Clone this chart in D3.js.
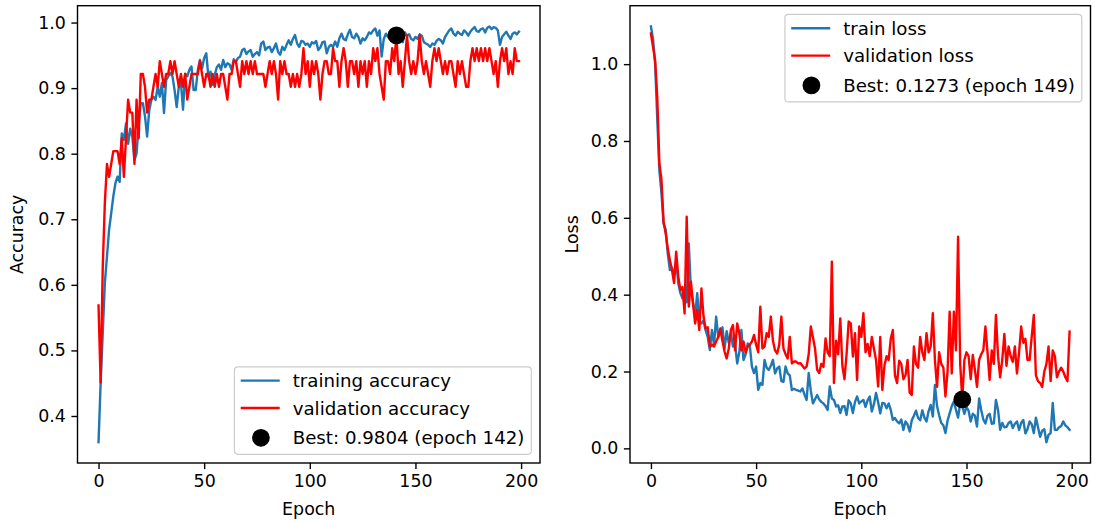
<!DOCTYPE html>
<html><head><meta charset="utf-8">
<script src="https://cdn.jsdelivr.net/npm/d3@7"></script>
<style>body{margin:0;background:#fff}svg{display:block}text{font-family:"DejaVu Sans",sans-serif;}</style>
</head><body>
<svg id="c" width="1095" height="521"></svg>
<script>
const epochs = d3.range(200);
const trainAcc = [
0.360,0.450,0.527,0.603,0.643,0.684,0.709,0.735,0.755,0.765,
0.757,0.831,0.821,0.846,0.815,0.838,0.826,0.790,0.800,0.845,
0.877,0.877,0.857,0.826,0.866,0.882,0.887,0.882,0.902,0.887,
0.908,0.862,0.912,0.918,0.923,0.918,0.897,0.871,0.902,0.908,
0.867,0.922,0.918,0.928,0.933,0.897,0.897,0.928,0.943,0.930,
0.946,0.953,0.917,0.925,0.905,0.920,0.932,0.936,0.928,0.943,
0.932,0.938,0.936,0.928,0.944,0.940,0.946,0.948,0.958,0.960,
0.952,0.956,0.958,0.948,0.952,0.955,0.950,0.968,0.971,0.958,
0.962,0.963,0.955,0.961,0.968,0.955,0.951,0.963,0.958,0.966,
0.973,0.966,0.975,0.981,0.968,0.963,0.972,0.971,0.966,0.968,
0.963,0.970,0.968,0.972,0.958,0.962,0.970,0.971,0.953,0.963,
0.966,0.963,0.971,0.963,0.976,0.983,0.975,0.973,0.982,0.989,
0.978,0.976,0.983,0.978,0.968,0.976,0.973,0.978,0.985,0.983,
0.988,0.991,0.980,0.988,0.948,0.975,0.983,0.978,0.985,0.988,
0.981,0.980,0.985,0.976,0.970,0.985,0.980,0.982,0.975,0.973,
0.978,0.975,0.982,0.980,0.970,0.968,0.966,0.963,0.968,0.966,
0.972,0.975,0.973,0.968,0.978,0.983,0.988,0.991,0.983,0.980,
0.986,0.983,0.981,0.988,0.985,0.980,0.986,0.990,0.993,0.987,
0.986,0.990,0.991,0.985,0.992,0.994,0.990,0.993,0.992,0.988,
0.966,0.978,0.982,0.986,0.980,0.975,0.983,0.985,0.982,0.986];
const valAcc = [
0.5686,0.4510,0.6275,0.7255,0.7843,0.7647,0.7843,0.8039,0.8039,0.8039,
0.7843,0.8235,0.7647,0.8235,0.8824,0.8627,0.8627,0.7843,0.8824,0.8235,
0.9216,0.9216,0.9020,0.8627,0.8824,0.8824,0.9020,0.9216,0.9020,0.9412,
0.9216,0.9020,0.9216,0.9216,0.9412,0.9216,0.9412,0.9216,0.9020,0.9216,
0.9020,0.9216,0.8824,0.9020,0.9216,0.9216,0.9216,0.9216,0.9412,0.9216,
0.9020,0.9216,0.9216,0.9020,0.9216,0.9020,0.9216,0.9020,0.9216,0.9216,
0.9020,0.8824,0.9216,0.9216,0.9412,0.9412,0.9216,0.9020,0.9412,0.9216,
0.9412,0.9216,0.9412,0.9216,0.9412,0.9216,0.9216,0.9216,0.9216,0.9020,
0.9216,0.9412,0.9216,0.9412,0.9216,0.8824,0.9412,0.9216,0.9412,0.9216,
0.9216,0.9020,0.9216,0.9020,0.9216,0.9020,0.9216,0.9608,0.9216,0.9412,
0.9020,0.9412,0.9216,0.9412,0.9216,0.8824,0.9216,0.9412,0.9412,0.9216,
0.9216,0.9608,0.9412,0.9412,0.9020,0.9412,0.9608,0.9412,0.9020,0.9412,
0.9412,0.9216,0.9412,0.9020,0.9412,0.9216,0.9412,0.9020,0.9412,0.9216,
0.9608,0.9412,0.9608,0.9216,0.9020,0.8824,0.9412,0.9412,0.9216,0.9608,
0.9412,0.9804,0.9216,0.9412,0.9020,0.9412,0.9804,0.9412,0.9216,0.9412,
0.9216,0.9412,0.9804,0.9412,0.9216,0.9412,0.9216,0.9020,0.9412,0.9608,
0.9412,0.9608,0.9412,0.9216,0.9412,0.9216,0.9412,0.9412,0.9216,0.9020,
0.9412,0.9216,0.9412,0.9216,0.9020,0.9020,0.9412,0.9608,0.9412,0.9608,
0.9412,0.9608,0.9412,0.9608,0.9412,0.9608,0.9412,0.9216,0.9412,0.9020,
0.9412,0.9608,0.9412,0.9608,0.9216,0.9412,0.9216,0.9608,0.9412,0.9412];
const trainLoss = [
1.098,1.065,1.000,0.860,0.724,0.665,0.585,0.570,0.507,0.464,
0.470,0.447,0.490,0.430,0.404,0.390,0.395,0.380,0.533,0.412,
0.380,0.343,0.404,0.330,0.325,0.333,0.307,0.290,0.256,0.308,
0.270,0.343,0.290,0.300,0.315,0.260,0.305,0.275,0.300,0.265,
0.272,0.221,0.250,0.308,0.230,0.245,0.273,0.268,0.213,0.196,
0.213,0.152,0.170,0.165,0.230,0.210,0.204,0.215,0.230,0.195,
0.208,0.213,0.175,0.173,0.213,0.195,0.190,0.152,0.155,0.152,
0.150,0.148,0.156,0.140,0.126,0.196,0.150,0.117,0.128,0.139,
0.127,0.121,0.117,0.110,0.100,0.161,0.130,0.126,0.109,0.112,
0.092,0.109,0.110,0.087,0.125,0.117,0.092,0.121,0.135,0.117,
0.122,0.126,0.108,0.125,0.135,0.096,0.115,0.144,0.120,0.091,
0.118,0.117,0.104,0.117,0.100,0.074,0.079,0.070,0.065,0.075,
0.048,0.070,0.062,0.044,0.073,0.085,0.098,0.079,0.073,0.099,
0.080,0.070,0.097,0.113,0.083,0.165,0.110,0.086,0.066,0.060,
0.040,0.072,0.091,0.110,0.122,0.100,0.080,0.117,0.110,0.090,
0.108,0.098,0.070,0.090,0.085,0.057,0.130,0.100,0.075,0.065,
0.085,0.090,0.064,0.065,0.126,0.100,0.048,0.066,0.055,0.056,
0.066,0.070,0.053,0.064,0.070,0.048,0.066,0.074,0.039,0.050,
0.070,0.063,0.040,0.080,0.055,0.030,0.046,0.050,0.016,0.035,
0.040,0.118,0.048,0.048,0.055,0.058,0.070,0.060,0.055,0.048];
const valLoss = [
1.080,1.045,1.010,0.915,0.742,0.700,0.590,0.560,0.520,0.490,
0.465,0.430,0.512,0.447,0.412,0.420,0.351,0.603,0.369,0.434,
0.378,0.325,0.360,0.308,0.416,0.343,0.312,0.315,0.265,0.270,
0.265,0.278,0.290,0.312,0.280,0.252,0.234,0.260,0.308,0.321,
0.255,0.325,0.300,0.255,0.278,0.250,0.265,0.270,0.278,0.295,
0.270,0.250,0.369,0.260,0.265,0.300,0.290,0.343,0.280,0.255,
0.247,0.270,0.343,0.260,0.245,0.234,0.290,0.221,0.226,0.226,
0.221,0.222,0.215,0.208,0.213,0.245,0.317,0.290,0.260,0.205,
0.196,0.220,0.212,0.286,0.250,0.240,0.486,0.170,0.280,0.245,
0.338,0.215,0.180,0.245,0.330,0.325,0.239,0.300,0.178,0.317,
0.290,0.352,0.250,0.272,0.240,0.290,0.260,0.230,0.161,0.290,
0.152,0.215,0.240,0.230,0.285,0.308,0.190,0.170,0.228,0.220,
0.180,0.190,0.230,0.145,0.139,0.265,0.220,0.210,0.290,0.250,
0.230,0.300,0.250,0.265,0.352,0.230,0.160,0.250,0.220,0.210,
0.135,0.200,0.356,0.195,0.356,0.255,0.551,0.220,0.1273,0.230,
0.250,0.240,0.180,0.243,0.205,0.160,0.230,0.245,0.255,0.317,
0.250,0.178,0.255,0.220,0.347,0.240,0.185,0.230,0.298,0.215,
0.265,0.240,0.225,0.265,0.195,0.250,0.317,0.275,0.285,0.230,
0.230,0.290,0.347,0.190,0.175,0.170,0.160,0.200,0.220,0.265,
0.175,0.255,0.240,0.185,0.200,0.210,0.200,0.185,0.175,0.304];
const xTicks = [0,50,100,150,200];
const accTicks = [0.4,0.5,0.6,0.7,0.8,0.9,1.0];
const lossTicks = [0.0,0.2,0.4,0.6,0.8,1.0];
const accLegend = ["training accuracy","validation accuracy"];
const lossLegend = ["train loss","validation loss"];

const FS = 17.4, LFS = 18.2;
const BLUE = "#1f77b4", RED = "#ff0000";
const svg = d3.select("#c");
svg.append("rect").attr("width",1095).attr("height",521).attr("fill","#fff");

function panel(o){
  const x = d3.scaleLinear().domain([-9.95,208.95]).range([o.left,o.right]);
  const all = o.train.concat(o.val);
  const [mn,mx] = d3.extent(all); const pad=(mx-mn)*0.05;
  const y = d3.scaleLinear().domain([mn-pad,mx+pad]).range([o.bottom,o.top]);
  const g = svg.append("g");
  const line = d3.line().x((d,i)=>x(epochs[i])).y(d=>y(d));
  g.append("path").datum(o.train).attr("d",line).attr("fill","none")
    .attr("stroke",BLUE).attr("stroke-width",2.4).attr("stroke-linejoin","round").attr("stroke-linecap","square");
  g.append("path").datum(o.val).attr("d",line).attr("fill","none")
    .attr("stroke",RED).attr("stroke-width",2.4).attr("stroke-linejoin","round").attr("stroke-linecap","square");
  const bi = o.bestIdx;
  g.append("circle").attr("cx",x(epochs[bi])).attr("cy",y(o.val[bi])).attr("r",8.9).attr("fill","#000");

  const xa = g.append("g").attr("transform",`translate(0,${o.bottom})`)
    .call(d3.axisBottom(x).tickValues(xTicks).tickSize(6.1).tickSizeOuter(0).tickPadding(5.5).tickFormat(d3.format("d")));
  const ya = g.append("g").attr("transform",`translate(${o.left},0)`)
    .call(d3.axisLeft(y).tickValues(o.yTicks).tickSize(6.1).tickSizeOuter(0).tickPadding(5.5).tickFormat(d3.format(".1f")));
  [xa,ya].forEach(a=>{
    a.select(".domain").remove();
    a.selectAll("line").attr("stroke","#000").attr("stroke-width",1.4);
    a.selectAll("text").attr("fill","#000").style("font-size",FS+"px").style("font-family","DejaVu Sans");
  });
  g.append("rect").attr("x",o.left).attr("y",o.top).attr("width",o.right-o.left).attr("height",o.bottom-o.top)
    .attr("fill","none").attr("stroke","#000").attr("stroke-width",1.4);
  g.append("text").attr("x",(o.left+o.right)/2).attr("y",515).attr("text-anchor","middle")
    .style("font-size",FS+"px").text("Epoch");
  g.append("text").attr("transform",`translate(${o.ylabelX},${(o.top+o.bottom)/2}) rotate(-90)`)
    .attr("text-anchor","middle").attr("dy","0.35em").style("font-size",FS+"px").text(o.ylabel);

  const labels = [o.names[0], o.names[1], `Best: ${o.val[bi].toFixed(4)} (epoch ${bi+1})`];
  const lg = g.append("g");
  const tmp = lg.append("text").style("font-size",LFS+"px");
  let w = 0; labels.forEach(t=>{tmp.text(t); w=Math.max(w,tmp.node().getComputedTextLength());});
  tmp.remove();
  const bw = 58.3 + w + 6.9, bh = 87.5;
  const bx = o.right - 8.7 - bw;
  const by = o.legendBottom ? o.bottom - 8.7 - bh : o.top + 8.7;
  lg.append("rect").attr("x",bx).attr("y",by).attr("width",bw).attr("height",bh).attr("rx",3.5)
    .attr("fill","#fff").attr("fill-opacity",0.8).attr("stroke","#cccccc").attr("stroke-width",1.2);
  const rows = [13.8,41.2,71];
  [BLUE,RED].forEach((c,i)=>{
    lg.append("line").attr("x1",bx+6.3).attr("x2",bx+45.3).attr("y1",by+rows[i]).attr("y2",by+rows[i])
      .attr("stroke",c).attr("stroke-width",2.4);
  });
  lg.append("circle").attr("cx",bx+26.5).attr("cy",by+rows[2]).attr("r",8.9).attr("fill","#000");
  labels.forEach((t,i)=>{
    lg.append("text").attr("x",bx+58.3).attr("y",by+rows[i]).attr("dy","0.36em").style("font-size",LFS+"px").attr("fill","#000").text(t);
  });
}

panel({left:77.5,right:540,top:5.7,bottom:463,train:trainAcc,val:valAcc,yTicks:accTicks,
  ylabel:"Accuracy",ylabelX:17,names:accLegend,legendBottom:true,bestIdx:d3.maxIndex(valAcc)});
panel({left:630,right:1090.5,top:5.7,bottom:463,train:trainLoss,val:valLoss,yTicks:lossTicks,
  ylabel:"Loss",ylabelX:572,names:lossLegend,legendBottom:false,bestIdx:d3.minIndex(valLoss)});
</script>
</body></html>
